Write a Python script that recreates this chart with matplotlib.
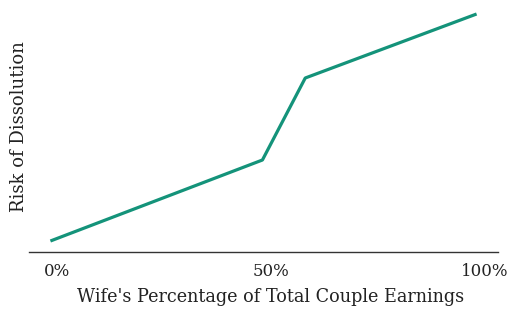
import matplotlib
matplotlib.use('Agg')
import matplotlib.pyplot as plt

# values (y in arbitrary units above the axis)
share = [-1.5, 48, 58, 98]
risk = [11, 92, 174, 238]
tick_pos = [0, 50, 100]
tick_labels = ['0%', '50%', '100%']

plt.rcParams['font.family'] = ['DejaVu Serif']

fig = plt.figure(figsize=(5.12, 3.1), dpi=100)
ax = fig.add_axes([29/512, 1 - 252/310, 469/512, 245/310])

ax.plot(share, risk, color='#14937a', linewidth=2.3, solid_capstyle='butt')

ax.set_xlim(-6.5, 103)
ax.set_ylim(0, 245)
ax.set_xticks(tick_pos)
ax.set_xticklabels(tick_labels, fontsize=12, color='#222222')
ax.tick_params(axis='x', length=0, pad=8)
ax.set_yticks([])
for s in ['top', 'right', 'left']:
    ax.spines[s].set_visible(False)
ax.spines['bottom'].set_color('#333333')
ax.spines['bottom'].set_linewidth(1)

ax.set_xlabel("Wife's Percentage of Total Couple Earnings", fontsize=12.7, color='#222222')
ax.xaxis.set_label_coords(0.514, -0.148)
ax.set_ylabel('Risk of Dissolution', fontsize=13, color='#222222')
ax.yaxis.set_label_coords(-0.002, 0.51)

fig.savefig('out.png', dpi=100)
